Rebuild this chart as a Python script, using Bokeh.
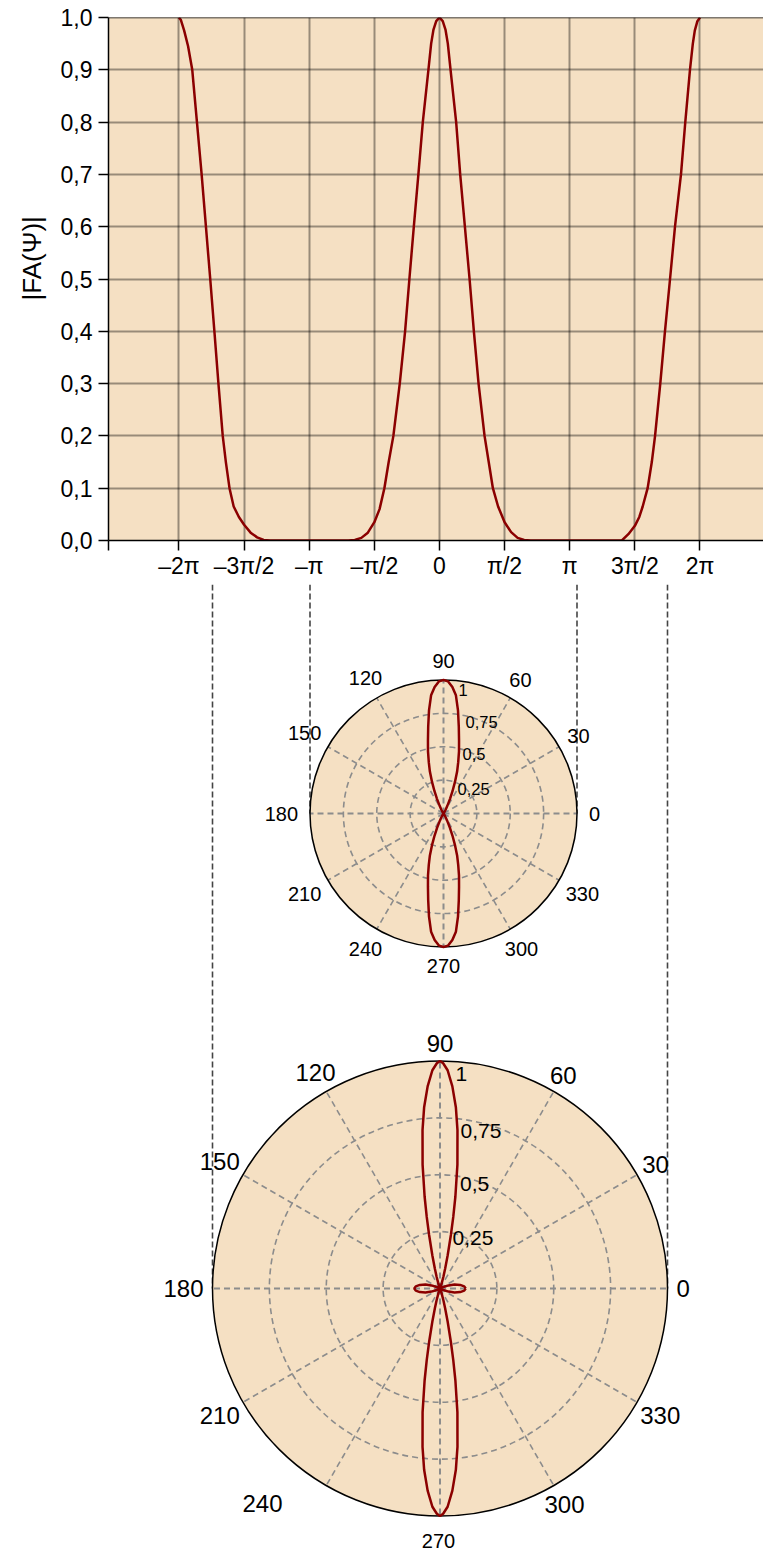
import numpy as np
from bokeh.plotting import figure
from bokeh.layouts import column
from bokeh.models import Range1d, FixedTicker, CustomJSTickFormatter, Span, Title
from bokeh.core.properties import value
from bokeh.embed import file_html
from bokeh.resources import INLINE

FONT = "Liberation Sans"
TAN = "#F5E0C3"
RED = "#8B0000"
POLAR_GRID = "#8c8c8c"
GUIDE = "#444444"

# ---------------------------------------------------------------- data
# |FA(Psi)|, Psi given in multiples of pi
psi_left = [-2.000, -1.985, -1.960, -1.930, -1.898, -1.862, -1.826, -1.793, -1.760,
            -1.728, -1.697, -1.664, -1.640, -1.612, -1.580, -1.540, -1.500, -1.450,
            -1.400, -1.350, -1.300]
fa_left = [1.000, 0.995, 0.975, 0.945, 0.900, 0.800, 0.700, 0.600, 0.500,
           0.400, 0.300, 0.200, 0.150, 0.100, 0.065, 0.045, 0.030, 0.015,
           0.006, 0.001, 0.000]

psi_null_left = [-1.000]
fa_null_left = [0.000]

psi_mid = [-0.700, -0.650, -0.600, -0.550, -0.500, -0.460, -0.423, -0.390, -0.354,
           -0.305, -0.264, -0.231, -0.197, -0.162, -0.128, -0.085, -0.064, -0.046,
           -0.025, 0.000, 0.025, 0.046, 0.064, 0.085, 0.128, 0.159, 0.195, 0.231,
           0.264, 0.300, 0.346, 0.378, 0.410, 0.450, 0.500, 0.550, 0.600, 0.650, 0.700]
fa_mid = [0.000, 0.001, 0.005, 0.015, 0.035, 0.060, 0.100, 0.150, 0.200,
          0.300, 0.400, 0.500, 0.600, 0.700, 0.800, 0.900, 0.950, 0.977,
          0.993, 1.000, 0.993, 0.977, 0.950, 0.900, 0.800, 0.700, 0.600, 0.500,
          0.400, 0.300, 0.200, 0.150, 0.100, 0.065, 0.035, 0.016, 0.005, 0.001, 0.000]

psi_null_right = [1.000]
fa_null_right = [0.000]

psi_right = [1.400, 1.450, 1.500, 1.534, 1.560, 1.598, 1.630, 1.655, 1.695, 1.731,
             1.770, 1.808, 1.854, 1.887, 1.923, 1.945, 1.960, 1.980, 2.000]
fa_right = [0.000, 0.012, 0.028, 0.045, 0.065, 0.100, 0.150, 0.200, 0.300, 0.400,
            0.500, 0.600, 0.700, 0.800, 0.900, 0.950, 0.975, 0.993, 1.000]

x_ticks = [-2, -1.5, -1, -0.5, 0, 0.5, 1, 1.5, 2]
x_tick_labels = ["–2π", "–3π/2", "–π", "–π/2", "0", "π/2", "π", "3π/2", "2π"]
y_ticks = [0.0, 0.1, 0.2, 0.3, 0.4, 0.5, 0.6, 0.7, 0.8, 0.9, 1.0]
y_tick_labels = ["0,0", "0,1", "0,2", "0,3", "0,4", "0,5", "0,6", "0,7", "0,8", "0,9", "1,0"]
y_title = "|FA(Ψ)|"

# radiation patterns, first quadrant (degrees, normalised radius); the rest is mirror-symmetric
theta_small = [0, 45, 52, 56, 60, 63, 66, 68, 70, 72, 74, 76, 78, 80, 82, 84, 86, 88, 90]
r_small = [0.0, 0.0, 0.003, 0.01, 0.03, 0.06, 0.12, 0.18, 0.25, 0.33, 0.40, 0.48,
           0.56, 0.66, 0.78, 0.89, 0.95, 0.99, 1.0]

theta_large = [0, 5, 10, 15, 20, 25, 30, 35, 65, 70, 72, 74, 75.5, 77, 78.5, 79.5,
               80.5, 82, 83.7, 85, 86.5, 88, 89.2, 90]
r_large = [0.113, 0.107, 0.090, 0.066, 0.040, 0.016, 0.004, 0.0, 0.0, 0.008, 0.025,
           0.055, 0.09, 0.15, 0.24, 0.32, 0.41, 0.55, 0.70, 0.80, 0.89, 0.96, 0.99, 1.0]

angle_ticks = [0, 30, 60, 90, 120, 150, 180, 210, 240, 270, 300, 330]
ring_values = [0.25, 0.5, 0.75, 1.0]
ring_labels = ["0,25", "0,5", "0,75", "1"]

# ---------------------------------------------------------------- top: |FA(Psi)|
X0, X1 = -2.541, 2.4875
LEFT = 108
TOP_H = 584

top = figure(width=763, height=TOP_H, x_range=Range1d(X0, X1), y_range=Range1d(0, 1),
             output_backend="svg", toolbar_location=None,
             min_border_left=LEFT, min_border_right=0, min_border_top=17,
             min_border_bottom=TOP_H - 17 - 523,
             background_fill_color=TAN, border_fill_color="white",
             outline_line_color=None)

xt = [X0] + x_ticks
xl = [""] + x_tick_labels
fmt_js = """
for (let i = 0; i < vals.length; i++) {
    if (Math.abs(tick - vals[i]) < 1e-6) { return labels[i]; }
}
return "";
"""
top.xaxis.ticker = FixedTicker(ticks=xt)
top.xaxis.formatter = CustomJSTickFormatter(args=dict(vals=xt, labels=xl), code=fmt_js)
top.yaxis.ticker = FixedTicker(ticks=y_ticks)
top.yaxis.formatter = CustomJSTickFormatter(args=dict(vals=y_ticks, labels=y_tick_labels), code=fmt_js)

for ax in (top.xaxis[0], top.yaxis[0]):
    ax.axis_line_color = "black"
    ax.axis_line_width = 1.5
    ax.major_tick_line_color = "black"
    ax.major_tick_line_width = 1.5
    ax.major_tick_out = 10
    ax.major_tick_in = 0
    ax.minor_tick_out = 0
    ax.minor_tick_in = 0
    ax.major_label_text_font = FONT
    ax.major_label_text_font_size = "23px"
    ax.major_label_text_color = "black"
top.xaxis.major_label_standoff = 2
top.yaxis.major_label_standoff = 6

top.grid.grid_line_color = "black"
top.grid.grid_line_alpha = 0.38
top.grid.grid_line_width = 2

top.add_layout(Span(location=1.0, dimension="width", line_color="black", line_width=1.5))

# vertical axis title in the left panel, starting 240 px above the frame bottom
top.add_layout(Title(text=y_title, align="left", offset=240, standoff=22,
                     text_font=FONT, text_font_size="26px", text_font_style="normal",
                     text_color="black"), "left")

psi = psi_left + psi_null_left + psi_mid + psi_null_right + psi_right
fa = fa_left + fa_null_left + fa_mid + fa_null_right + fa_right
top.line(psi, fa, line_color=RED, line_width=2.5)

# ---------------------------------------------------------------- bottom: polar patterns
# one data unit is one pixel; the frame lines up with the frame above
H = 1553
low = figure(width=763, height=H - TOP_H, x_range=Range1d(LEFT, 763), y_range=Range1d(H, TOP_H),
             output_backend="svg", toolbar_location=None,
             x_axis_location=None, y_axis_location=None,
             min_border_left=LEFT, min_border_right=0, min_border_top=0, min_border_bottom=0,
             outline_line_color=None,
             background_fill_color="white", border_fill_color="white")
low.grid.visible = False


def full_pattern(theta_q, r_q):
    t = np.asarray(theta_q, dtype=float)
    r = np.asarray(r_q, dtype=float)
    th = np.concatenate([t, 180 - t[::-1], 180 + t, 360 - t[::-1]])
    rr = np.concatenate([r, r[::-1], r, r[::-1]])
    return th, rr


def draw_polar(p, cx, cy, R, theta_q, r_q, ang_font, pad, rad_font, rad_dx, rad_dy,
               overrides=None):
    overrides = overrides or {}
    # guide lines up to the Psi axis of the upper chart
    p.segment(x0=[cx - R, cx + R], y0=[TOP_H, TOP_H], x1=[cx - R, cx + R], y1=[cy, cy],
              line_color=GUIDE, line_width=1.6, line_dash="6 3")
    p.circle(x=[cx], y=[cy], radius=R, fill_color=TAN, line_color=None)
    for v in ring_values[:-1]:
        p.circle(x=[cx], y=[cy], radius=R * v, fill_color=None,
                 line_color=POLAR_GRID, line_width=1.6, line_dash="6 4")
    a = np.deg2rad(angle_ticks)
    widths = [2.0 if t % 90 == 0 else 1.6 for t in angle_ticks]
    p.segment(x0=[cx] * len(a), y0=[cy] * len(a), x1=cx + R * np.cos(a), y1=cy - R * np.sin(a),
              line_color=POLAR_GRID, line_width=widths, line_dash="6 4")
    p.circle(x=[cx], y=[cy], radius=R, fill_color=None, line_color="black", line_width=1.5)

    th, rr = full_pattern(theta_q, r_q)
    tr = np.deg2rad(th)
    p.line(cx + R * rr * np.cos(tr), cy - R * rr * np.sin(tr), line_color=RED, line_width=2.5)

    # angle labels
    xs, ys, txt, sizes = [], [], [], []
    for t in angle_ticks:
        s = str(t)
        if t in overrides:
            dx, dy, fs = overrides[t]
            xs.append(cx + dx)
            ys.append(cy + dy)
            sizes.append(fs)
        else:
            w2 = 0.556 * ang_font * len(s) / 2
            h2 = 0.36 * ang_font
            ang = np.deg2rad(t)
            d = R + pad + np.hypot(w2 * np.cos(ang), h2 * np.sin(ang))
            xs.append(cx + d * np.cos(ang))
            ys.append(cy - d * np.sin(ang))
            sizes.append(f"{ang_font}px")
        txt.append(s)
    p.text(x=xs, y=ys, text=txt, text_font=value(FONT), text_font_size=sizes,
           text_align="center", text_baseline="middle", text_color="black")

    # ring value labels
    rx = [cx + d for d in rad_dx]
    ry = [cy - R * v + d for v, d in zip(ring_values, rad_dy)]
    p.text(x=rx, y=ry, text=ring_labels, text_font=value(FONT),
           text_font_size=f"{rad_font}px", text_align="left", text_baseline="middle",
           text_color="black")


draw_polar(low, 443.0, 813.0, 133.5, theta_small, r_small,
           ang_font=20, pad=12, rad_font=16.5,
           rad_dx=[14, 19, 22, 15], rad_dy=[8.5, 7, 9, 10])

draw_polar(low, 439.5, 1288.0, 227.5, theta_large, r_large,
           ang_font=24, pad=9, rad_font=21,
           rad_dx=[12.5, 20, 20.5, 15.5], rad_dy=[6, 9, 13, 12.5],
           overrides={240: (-177.5, 215.0, "24px"), 270: (-1.5, 252.0, "20px")})

layout = column(top, low, spacing=0)
open("out.html", "w").write(file_html(layout, INLINE))
